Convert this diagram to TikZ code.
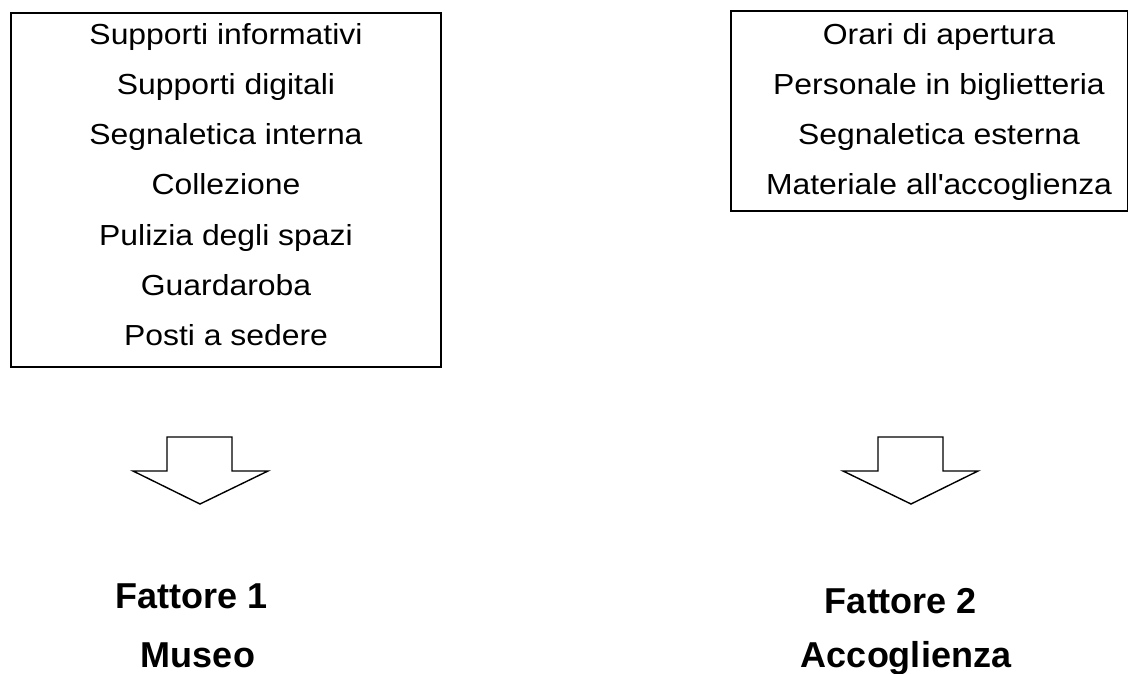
\documentclass[tikz,border=0pt]{standalone}
\usepackage{fontspec}
\setmainfont{Liberation Sans}
\newfontfamily\itemfont[FakeStretch=1.1]{Liberation Sans}
\begin{document}
\begin{tikzpicture}[x=1pt,y=-1pt,
  framebox/.style={draw=black,line width=1.4pt,inner sep=0pt},
  item/.style={anchor=base,inner sep=0pt,font=\itemfont\fontsize{29}{32}\selectfont},
  factor/.style={anchor=base,inner sep=0pt,font=\fontsize{36}{40}\selectfont\bfseries},
  blockarrow/.style={draw=black,line width=1.4pt,fill=white,line join=miter}]
\useasboundingbox (0,0) rectangle (1128,674);
% boxes
\node[framebox,minimum width=430pt,minimum height=354pt] (box1) at (226,190) {};
\node[framebox,minimum width=397pt,minimum height=200pt] (box2) at (929.5,111) {};
% left items
\node[item] (l1) at (226,45) {Supporti informativi};
\node[item] (l2) at (226,95) {Supporti digitali};
\node[item] (l3) at (226,145) {Segnaletica interna};
\node[item] (l4) at (226,195) {Collezione};
\node[item] (l5) at (226,245) {Pulizia degli spazi};
\node[item] (l6) at (226,295) {Guardaroba};
\node[item] (l7) at (226,345) {Posti a sedere};
% right items
\node[item] (r1) at (939,45) {Orari di apertura};
\node[item] (r2) at (939,95) {Personale in biglietteria};
\node[item] (r3) at (939,145) {Segnaletica esterna};
\node[item] (r4) at (939,195) {Materiale all\textquotesingle accoglienza};
% block arrows
\draw[blockarrow] (167,437) -- (232,437) -- (232,471) -- (268,471) -- (200,504) -- (133,471) -- (167,471) -- cycle;
\draw[blockarrow] (878,437) -- (943,437) -- (943,471) -- (978,471) -- (911,504) -- (843,471) -- (878,471) -- cycle;
% factors
\node[factor] (f1) at (192,608) {Fattore 1};
\node[factor] (m1) at (198,667) {Museo};
\node[factor] (f2) at (901,613) {Fattore 2};
\node[factor] (m2) at (906,667) {Accoglienza};
\end{tikzpicture}
\end{document}
